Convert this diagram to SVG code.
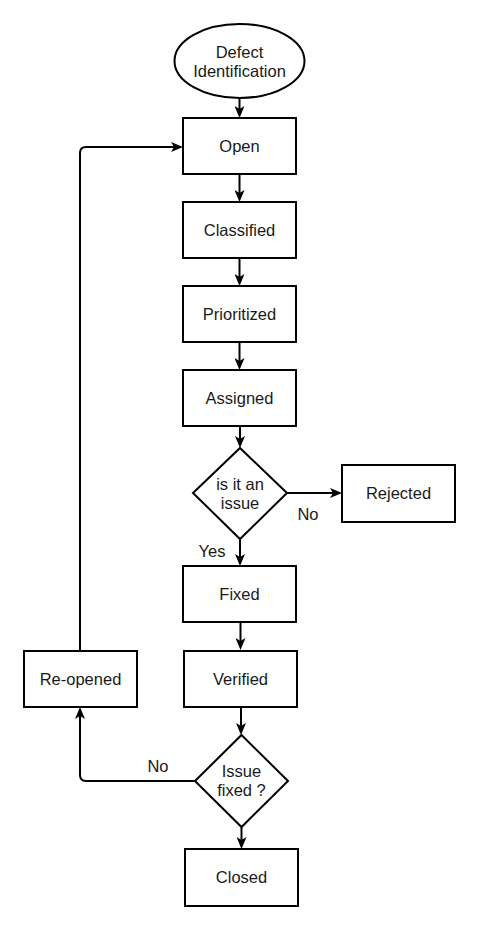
<svg xmlns="http://www.w3.org/2000/svg" width="479" height="930" viewBox="0 0 479 930">
<style>
.n{fill:#fff;stroke:#000;stroke-width:2}
.t{font-family:"Liberation Sans",Arial,sans-serif;font-size:16.5px;fill:#1a1a1a;text-anchor:middle}
.e{fill:none;stroke:#000;stroke-width:2}
</style>
<defs>
<marker id="a" markerUnits="userSpaceOnUse" markerWidth="12" markerHeight="10" viewBox="0 0 12 10" refX="3" refY="5" orient="auto">
<path d="M0,0 L12,5 L0,10 L3,5 Z" fill="#000"/>
</marker>
</defs>
<rect width="479" height="930" fill="#fff"/>
<g id="connectors">
<path class="e" marker-end="url(#a)" d="M239.5,98 V109"/>
<path class="e" marker-end="url(#a)" d="M239.5,174 V193"/>
<path class="e" marker-end="url(#a)" d="M239.5,258 V277"/>
<path class="e" marker-end="url(#a)" d="M239.5,342 V361"/>
<path class="e" marker-end="url(#a)" d="M240,426 V439"/>
<path class="e" marker-end="url(#a)" d="M287,493 H333"/>
<path class="e" marker-end="url(#a)" d="M240,539 V557"/>
<path class="e" marker-end="url(#a)" d="M240.5,622 V641"/>
<path class="e" marker-end="url(#a)" d="M241,707 V726"/>
<path class="e" marker-end="url(#a)" d="M195,781 H86 Q80,781 80,775 V716"/>
<path class="e" marker-end="url(#a)" d="M241.5,827 V840"/>
<path class="e" marker-end="url(#a)" d="M80,651 V153 Q80,147 86,147 H174"/>
<text class="t" x="308" y="520">No</text>
<text class="t" x="212" y="557">Yes</text>
<text class="t" x="158" y="772">No</text>
</g>
<g id="defect-identification">
<ellipse class="n" cx="239.5" cy="61" rx="65" ry="37"/>
<text class="t" x="239.5" y="58">Defect</text>
<text class="t" x="239.5" y="77">Identification</text>
</g>
<g id="open"><rect class="n" x="183" y="118" width="113" height="56"/><text class="t" x="239.5" y="152">Open</text></g>
<g id="classified"><rect class="n" x="183" y="202" width="113" height="56"/><text class="t" x="239.5" y="236">Classified</text></g>
<g id="prioritized"><rect class="n" x="183" y="286" width="113" height="56"/><text class="t" x="239.5" y="320">Prioritized</text></g>
<g id="assigned"><rect class="n" x="183" y="370" width="113" height="56"/><text class="t" x="239.5" y="404">Assigned</text></g>
<g id="is-issue">
<path class="n" d="M240,448 L287,493 L240,539 L193,493 Z"/>
<text class="t" x="240" y="490">is it an</text>
<text class="t" x="240" y="509">issue</text>
</g>
<g id="rejected"><rect class="n" x="342" y="465" width="113" height="57"/><text class="t" x="398.5" y="499">Rejected</text></g>
<g id="fixed"><rect class="n" x="183" y="566" width="113" height="56"/><text class="t" x="239.5" y="600">Fixed</text></g>
<g id="verified"><rect class="n" x="184" y="651" width="113" height="56"/><text class="t" x="240.5" y="685">Verified</text></g>
<g id="re-opened"><rect class="n" x="24" y="651" width="113" height="56"/><text class="t" x="80.5" y="685">Re-opened</text></g>
<g id="issue-fixed">
<path class="n" d="M241.5,735 L288,781 L241.5,827 L195,781 Z"/>
<text class="t" x="241.5" y="777">Issue</text>
<text class="t" x="241.5" y="796">fixed ?</text>
</g>
<g id="closed"><rect class="n" x="185" y="849" width="113" height="57"/><text class="t" x="241.5" y="883">Closed</text></g>
</svg>
